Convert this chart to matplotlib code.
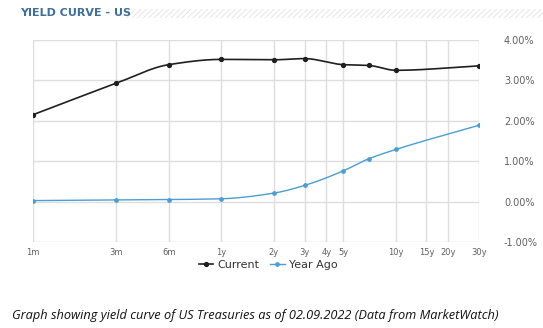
import numpy as np
import matplotlib
matplotlib.use("Agg")
import matplotlib.pyplot as plt
from matplotlib.patches import Rectangle
from matplotlib.lines import Line2D

# ---- data ----
maturity_months = [1, 3, 6, 12, 24, 36, 60, 84, 120, 360]
current = [2.15, 2.93, 3.39, 3.52, 3.51, 3.54, 3.39, 3.37, 3.25, 3.36]
year_ago = [0.025, 0.04, 0.05, 0.07, 0.21, 0.40, 0.76, 1.06, 1.29, 1.89]
tick_months = [1, 3, 6, 12, 24, 36, 48, 60, 120, 180, 240, 360]
tick_labels = ["1m", "3m", "6m", "1y", "2y", "3y", "4y", "5y", "10y", "15y", "20y", "30y"]
y_ticks = [-1, 0, 1, 2, 3, 4]
series_names = ["Current", "Year Ago"]


def smooth(xs, ys, n=40):
    """Monotone cubic (Fritsch-Carlson) path through the points in log-x space, for drawing only."""
    lx = np.log(np.asarray(xs, float))
    y = np.asarray(ys, float)
    h = np.diff(lx)
    d = np.diff(y) / h
    m = np.zeros_like(y)
    m[0], m[-1] = d[0], d[-1]
    for i in range(1, len(y) - 1):
        if d[i - 1] * d[i] <= 0:
            m[i] = 0
        else:
            w1 = 2 * h[i] + h[i - 1]
            w2 = h[i] + 2 * h[i - 1]
            m[i] = (w1 + w2) / (w1 / d[i - 1] + w2 / d[i])
    X, Y = [], []
    for i in range(len(h)):
        t = np.linspace(0, 1, n)
        h00 = 2 * t**3 - 3 * t**2 + 1
        h10 = t**3 - 2 * t**2 + t
        h01 = -2 * t**3 + 3 * t**2
        h11 = t**3 - t**2
        X.append(lx[i] + t * h[i])
        Y.append(h00 * y[i] + h10 * h[i] * m[i] + h01 * y[i + 1] + h11 * h[i] * m[i + 1])
    return np.exp(np.concatenate(X)), np.concatenate(Y)


fig = plt.figure(figsize=(5.43, 3.28), dpi=100)
fig.patch.set_facecolor("white")

ax = fig.add_axes([33 / 543, 1 - 242 / 328, 446 / 543, 202 / 328])
ax.set_xscale("log")
ax.set_xlim(1, 360)
ax.set_ylim(-1, 4)

grid_c = "#dedede"
for t in tick_months:
    ax.axvline(t, color=grid_c, lw=1.0, zorder=0)
for v in y_ticks:
    ax.axhline(v, color=grid_c, lw=1.0, zorder=0)

cur_c = "#1f1f1f"
ya_c = "#4a9ed6"
sx, sy = smooth(maturity_months, current)
ax.plot(sx, sy, color=cur_c, lw=1.2, zorder=3)
ax.plot(maturity_months, current, ls="none", marker="o", ms=2.8, color=cur_c, zorder=4)
sx, sy = smooth(maturity_months, year_ago)
ax.plot(sx, sy, color=ya_c, lw=1.0, zorder=3)
ax.plot(maturity_months, year_ago, ls="none", marker="o", ms=2.4, color=ya_c, zorder=4)

ax.set_xticks(tick_months)
ax.set_xticklabels(tick_labels)
ax.xaxis.set_minor_locator(matplotlib.ticker.NullLocator())
ax.tick_params(axis="x", length=0, pad=4, labelsize=6, labelcolor="#606060")

ax.yaxis.tick_right()
ax.set_yticks(y_ticks)
ax.set_yticklabels([f"{v:.2f}%" for v in y_ticks])
ax.tick_params(axis="y", length=0, pad=18, labelsize=7, labelcolor="#606060")
for s in ax.spines.values():
    s.set_visible(False)

# legend
handles = [
    Line2D([], [], color=cur_c, lw=1.2, marker="o", ms=2.8),
    Line2D([], [], color=ya_c, lw=1.0, marker="o", ms=2.4),
]
fig.legend(handles, series_names, loc="center", bbox_to_anchor=(268 / 543, 1 - 265 / 328),
           ncol=2, frameon=False, fontsize=8, handlelength=1.3, handletextpad=0.35,
           columnspacing=1.0, labelcolor="#333333")

# title and hatch band
fig.text(20 / 543, 1 - 13 / 328, "YIELD CURVE - US", fontsize=8, fontweight="bold",
         color="#3f6f9c", va="center", ha="left")
matplotlib.rcParams["hatch.linewidth"] = 0.6
band = Rectangle((124 / 543, 1 - 18 / 328), 419 / 543, 9 / 328, transform=fig.transFigure,
                 facecolor="white", edgecolor="#e2e2e2", hatch="//////", lw=0)
fig.patches.append(band)

# caption
fig.text(12 / 543, 1 - 316 / 328, "Graph showing yield curve of US Treasuries as of 02.09.2022 (Data from MarketWatch)",
         fontsize=9.2, style="italic", family="Open Sans", color="#111111", va="center", ha="left")

fig.savefig("out.png", dpi=100, facecolor="white")
